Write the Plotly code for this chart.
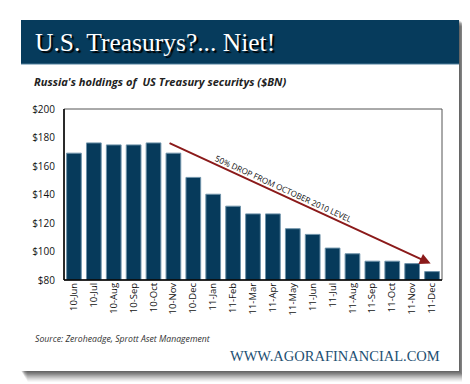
import plotly.graph_objects as go

months = ["10-Jun", "10-Jul", "10-Aug", "10-Sep", "10-Oct", "10-Nov", "10-Dec",
          "11-Jan", "11-Feb", "11-Mar", "11-Apr", "11-May", "11-Jun", "11-Jul",
          "11-Aug", "11-Sep", "11-Oct", "11-Nov", "11-Dec"]
holdings = [169, 176.2, 174.8, 174.8, 176.2, 169, 152, 140.2, 131.8, 126.4, 126.4,
            116, 112, 102.4, 98.4, 93.2, 93.2, 91.5, 85.9]
y_ticks = [80, 100, 120, 140, 160, 180, 200]
y_tick_labels = ["$80", "$100", "$120", "$140", "$160", "$180", "$200"]

W, H = 470, 384
L, R, T, B = 56, 434, 101, 272


def px(x):
    return (x - L) / (R - L)


def py(y):
    return (B - y) / (B - T)


fig = go.Figure()
fig.add_trace(go.Bar(
    x=months, y=holdings,
    marker=dict(color="#063a5b", line=dict(color="#6f93aa", width=1)),
    width=0.74,
))

shapes = []
# shadow
for i, op in enumerate([0.11, 0.11, 0.10, 0.10, 0.09, 0.08, 0.07, 0.06, 0.05, 0.04, 0.03]):
    d = i + 1
    shapes.append(dict(type="rect", xref="paper", yref="paper", layer="below",
                       x0=px(13 + d * 0.6), x1=px(451 + d), y0=py(363 + d), y1=py(12 + d * 0.6),
                       fillcolor="rgba(0,0,0,%.2f)" % op, line=dict(width=0)))
# card
shapes.append(dict(type="rect", xref="paper", yref="paper", layer="below",
                   x0=px(13), x1=px(451), y0=py(363), y1=py(12),
                   fillcolor="white", line=dict(width=0)))
# header
shapes.append(dict(type="rect", xref="paper", yref="paper", layer="below",
                   x0=px(13), x1=px(451), y0=py(56), y1=py(12),
                   fillcolor="#063b5c", line=dict(width=0)))
shapes.append(dict(type="line", xref="paper", yref="paper", layer="below",
                   x0=px(13), x1=px(451), y0=py(56), y1=py(56),
                   line=dict(color="#4f7f9b", width=1)))
# plot frame
shapes.append(dict(type="rect", xref="paper", yref="paper", layer="above",
                   x0=0, x1=1, y0=0, y1=1, line=dict(color="#555555", width=1)))
shapes.append(dict(type="line", xref="paper", yref="paper", layer="above",
                   x0=0, x1=0, y0=0, y1=1, line=dict(color="black", width=1.5)))
shapes.append(dict(type="line", xref="paper", yref="paper", layer="above",
                   x0=0, x1=1, y0=0, y1=0, line=dict(color="black", width=1.5)))

annotations = [
    dict(xref="paper", yref="paper", x=px(25), y=py(34), xanchor="left", yanchor="middle",
         text="U.S. Treasurys?... Niet!", showarrow=False,
         font=dict(family="Liberation Serif", size=25.5, color="white",
                   shadow="2px 2px 1px #000000")),
    dict(xref="paper", yref="paper", x=px(24), y=py(73), xanchor="left", yanchor="middle",
         text="<b><i>Russia's holdings of  US Treasury securitys ($BN)</i></b>", showarrow=False,
         font=dict(family="Open Sans", size=11.1, color="#222222")),
    dict(xref="paper", yref="paper", x=px(25), y=py(331), xanchor="left", yanchor="middle",
         text="<i>Source: Zeroheadge, Sprott Aset Management</i>", showarrow=False,
         font=dict(family="Open Sans", size=8.7, color="#333333")),
    dict(xref="paper", yref="paper", x=px(434), y=py(348), xanchor="right", yanchor="middle",
         text="WWW.AGORAFINANCIAL.COM", showarrow=False,
         font=dict(family="Liberation Serif", size=14.5, color="#1d4f72")),
    # drop arrow
    dict(x=17.93, y=91.5, ax=4.73, ay=176.5, xref="x", yref="y", axref="x", ayref="y",
         text="", showarrow=True, arrowhead=2, arrowsize=1.1, arrowwidth=2,
         arrowcolor="#8b1a1a"),
    dict(x=10.55, y=144.2, xref="x", yref="y", text="50% DROP FROM OCTOBER 2010 LEVEL",
         showarrow=False, textangle=24.6,
         font=dict(family="Open Sans", size=8.1, color="#111111")),
]

fig.update_layout(
    width=W, height=H,
    margin=dict(l=L, r=W - R, t=T, b=H - B, pad=0),
    paper_bgcolor="white", plot_bgcolor="white",
    showlegend=False,
    shapes=shapes,
    annotations=annotations,
    xaxis=dict(type="category", tickangle=-90, showgrid=False, ticks="",
               tickfont=dict(family="Open Sans", size=9.5, color="#111111"),
               showline=False, range=[-0.5, 18.5]),
    yaxis=dict(range=[80, 200], tickvals=y_ticks, ticktext=y_tick_labels, showgrid=False,
               ticks="", ticklabelstandoff=8, zeroline=False,
               tickfont=dict(family="Open Sans", size=10, color="#111111"), showline=False),
)

fig.write_html("out.html")
